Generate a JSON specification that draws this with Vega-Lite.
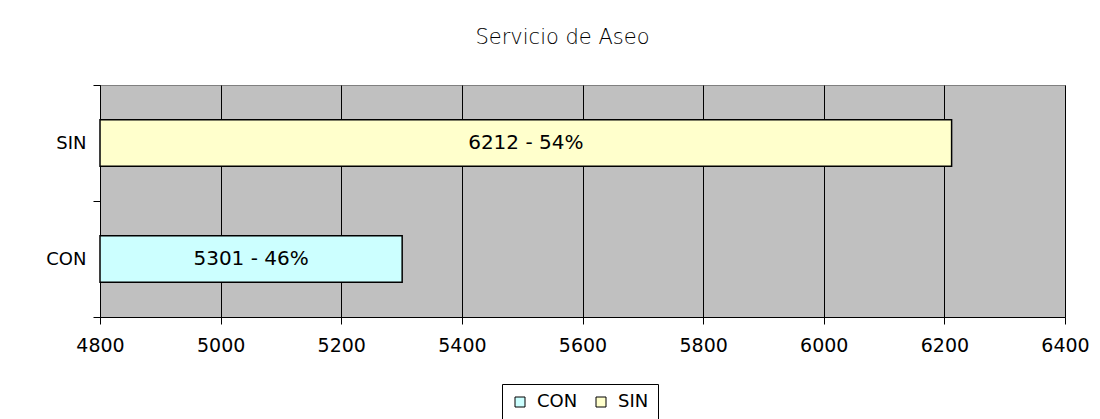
{
  "$schema": "https://vega.github.io/schema/vega-lite/v6.json",
  "width": 965,
  "height": 232,
  "padding": {"top": 27, "left": 0, "right": 10, "bottom": 5},
  "background": "white",
  "title": {
    "text": "Servicio de Aseo",
    "font": "DejaVu Sans",
    "fontSize": 21,
    "fontWeight": 300,
    "color": "black",
    "anchor": "middle",
    "dx": -20,
    "offset": 28
  },
  "data": {
    "values": [
      {"servicio": "SIN", "valor": 6212, "etiqueta": "6212 - 54%"},
      {"servicio": "CON", "valor": 5301, "etiqueta": "5301 - 46%"}
    ]
  },
  "encoding": {
    "y": {
      "field": "servicio",
      "type": "nominal",
      "sort": ["SIN", "CON"],
      "scale": {"paddingInner": 0, "paddingOuter": 0},
      "axis": {
        "title": null,
        "domainColor": "black",
        "tickColor": "black",
        "tickSize": 7,
        "tickBand": "extent",
        "labelPadding": 7,
        "labelFont": "DejaVu Sans",
        "labelFontSize": 18,
        "labelColor": "black",
        "minExtent": 100,
        "maxExtent": 100
      }
    }
  },
  "layer": [
    {
      "mark": {"type": "bar", "stroke": "black", "strokeWidth": 1.5, "height": {"band": 0.4}},
      "encoding": {
        "x": {
          "field": "valor",
          "type": "quantitative",
          "scale": {"domain": [4800, 6400], "nice": false, "zero": false},
          "axis": {
            "title": null,
            "values": [4800, 5000, 5200, 5400, 5600, 5800, 6000, 6200, 6400],
            "grid": true,
            "gridColor": "black",
            "gridOpacity": 1,
            "domainColor": "black",
            "tickColor": "black",
            "tickSize": 7,
            "labelPadding": 12,
            "labelFont": "DejaVu Sans",
            "labelFontSize": 19,
            "labelColor": "black",
            "labelFlush": false,
            "format": "d"
          }
        },
        "x2": {"datum": 4800},
        "color": {
          "field": "servicio",
          "type": "nominal",
          "scale": {"domain": ["CON", "SIN"], "range": ["#CCFFFF", "#FFFFCC"]},
          "legend": {
            "title": null,
            "orient": "none",
            "direction": "horizontal",
            "legendX": 402,
            "legendY": 299,
            "strokeColor": "black",
            "padding": 9,
            "symbolType": "square",
            "symbolSize": 100,
            "symbolStrokeColor": "black",
            "symbolStrokeWidth": 1,
            "labelFont": "DejaVu Sans",
            "labelFontSize": 18,
            "labelColor": "black",
            "labelOffset": 8,
            "columnPadding": 14
          }
        }
      }
    },
    {
      "transform": [{"calculate": "(datum.valor + 4800) / 2", "as": "centro"}],
      "mark": {"type": "text", "align": "center", "baseline": "middle", "font": "DejaVu Sans", "fontSize": 20, "color": "black"},
      "encoding": {
        "x": {"field": "centro", "type": "quantitative"},
        "text": {"field": "etiqueta"}
      }
    }
  ],
  "config": {
    "view": {"fill": "#C0C0C0", "stroke": "#808080", "strokeWidth": 1}
  }
}
